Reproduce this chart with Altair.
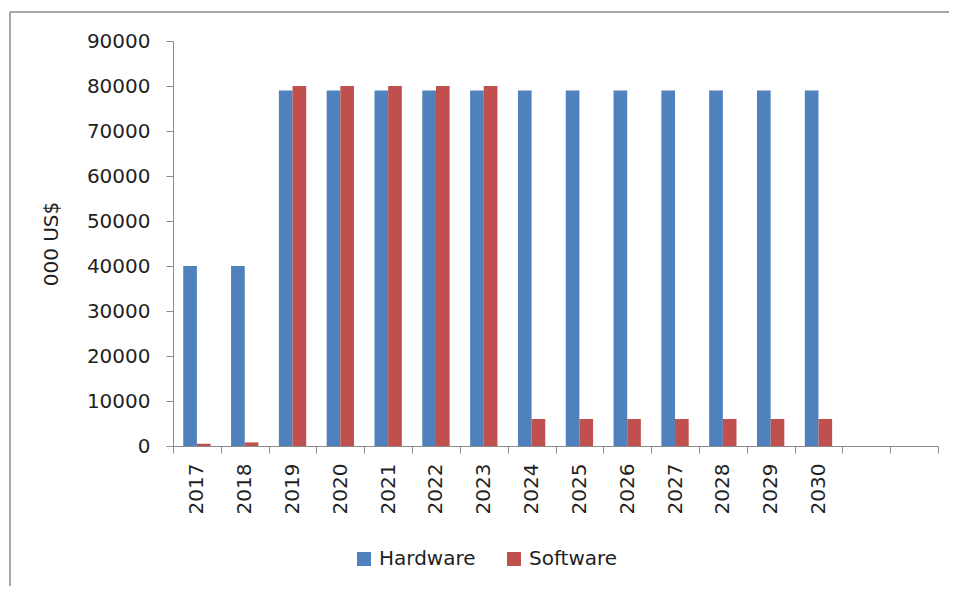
import altair as alt
import pandas as pd

# ---- data ----
years = ["2017", "2018", "2019", "2020", "2021", "2022", "2023",
         "2024", "2025", "2026", "2027", "2028", "2029", "2030"]
empty_slots = ["", " "]          # two unlabeled categories at the right end
hardware = [40000, 40000, 79000, 79000, 79000, 79000, 79000,
            79000, 79000, 79000, 79000, 79000, 79000, 79000]
software = [500, 800, 80000, 80000, 80000, 80000, 80000,
            6000, 6000, 6000, 6000, 6000, 6000, 6000]
series = ["Hardware", "Software"]
colors = ["#4F81BD", "#C0504D"]
y_ticks = [0, 10000, 20000, 30000, 40000, 50000, 60000, 70000, 80000, 90000]

rows = []
for i, yr in enumerate(years):
    rows.append({"year": yr, "series": "Hardware", "value": hardware[i]})
    rows.append({"year": yr, "series": "Software", "value": software[i]})
df = pd.DataFrame(rows)

FONT = "DejaVu Sans"
FS = 20
TXT = "#1f1f1f"
AX = "#8c8c8c"

W, H = 765, 405
PAD_L, PAD_T = 165, 33
PAD_R = 957 - 16 - W - PAD_L
PAD_B = 594 - 16 - H - PAD_T

bars = alt.Chart(df).mark_bar().encode(
    x=alt.X("year:N", sort=None,
            scale=alt.Scale(domain=years + empty_slots, paddingInner=0, paddingOuter=0),
            axis=alt.Axis(title=None, labelAngle=270, labelAlign="right", labelBaseline="middle",
                          tickBand="extent", tickSize=7, labelPadding=10,
                          domainColor=AX, tickColor=AX, labelColor=TXT,
                          labelFont=FONT, labelFontSize=FS, grid=False)),
    xOffset=alt.XOffset("series:N", sort=series,
                        scale=alt.Scale(domain=series, paddingInner=0, paddingOuter=0.75)),
    y=alt.Y("value:Q",
            scale=alt.Scale(domain=[0, 90000], nice=False),
            axis=alt.Axis(title="000 US$", values=y_ticks, format="d", grid=False,
                          tickSize=7, labelPadding=16, titlePadding=25,
                          domainColor=AX, tickColor=AX, labelColor=TXT,
                          labelFont=FONT, labelFontSize=FS,
                          titleFont=FONT, titleFontSize=FS, titleFontWeight="normal",
                          titleColor=TXT)),
    color=alt.Color("series:N", sort=series,
                    scale=alt.Scale(domain=series, range=colors),
                    legend=alt.Legend(title=None, orient="none", direction="horizontal",
                                      legendX=181, legendY=508,
                                      symbolType="square", symbolSize=196,
                                      symbolStrokeWidth=0, columnPadding=28,
                                      labelFont=FONT, labelFontSize=FS, labelColor=TXT,
                                      labelOffset=5)),
)

one = pd.DataFrame({"k": [0]})
frame_left = alt.Chart(one).mark_rule(stroke="#8a8a8a", strokeWidth=1.5).encode(
    x=alt.value(-163), y=alt.value(-29), y2=alt.value(H + PAD_B + 10),
)
frame_top = alt.Chart(one).mark_rule(stroke="#8a8a8a", strokeWidth=1.5).encode(
    x=alt.value(-163), x2=alt.value(W + PAD_R + 10), y=alt.value(-29),
)

chart = alt.layer(frame_left, frame_top, bars).properties(
    width=W, height=H,
    view=alt.ViewBackground(stroke=None, strokeWidth=0),
    autosize=alt.AutoSizeParams(type="none"),
    padding={"left": PAD_L, "top": PAD_T, "right": PAD_R, "bottom": PAD_B},
).configure_view(stroke=None, strokeWidth=0).configure(background="white")

chart.save("out.html", embed_options={"renderer": "svg", "actions": False})
